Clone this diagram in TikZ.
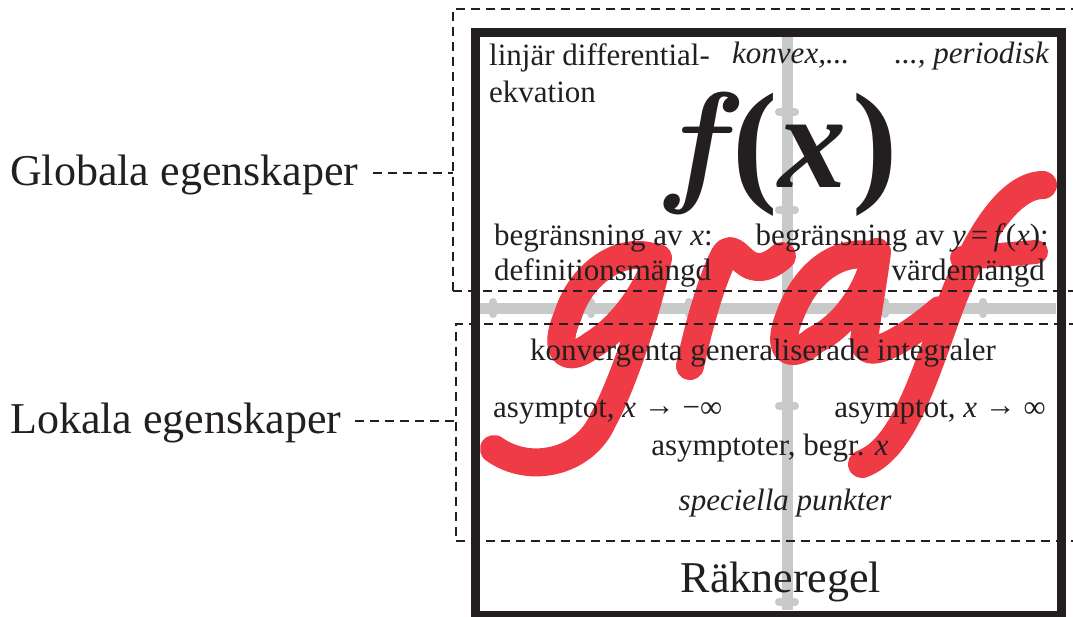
\documentclass[tikz,border=0pt]{standalone}
\usepackage{fontspec}
\setmainfont{Liberation Serif}
\newfontfamily\lmfont{Latin Modern Roman}
\usetikzlibrary{positioning}

\definecolor{inkblack}{HTML}{231F20}
\definecolor{grafred}{HTML}{EE3B45}
\definecolor{axisgray}{HTML}{C8CAC9}

\tikzset{
  txt/.style={inner sep=0, text=inkblack, font=\fontsize{31}{37}\selectfont},
  itxt/.style={txt, font=\fontsize{31}{37}\selectfont\itshape},
  bigtxt/.style={inner sep=0, text=inkblack, font=\fontsize{44}{50}\selectfont},
  sidelabel/.style={bigtxt, inner sep=14pt, text height=34pt, text depth=10pt},
  regionbox/.style={draw=inkblack, line width=1.6pt, dash pattern=on 9pt off 6pt,
    inner sep=0, outer sep=0, anchor=north west},
  leader/.style={draw=inkblack, line width=1.6pt, dash pattern=on 9pt off 6pt},
  frame/.style={draw=inkblack, line width=9pt},
  axis/.style={draw=axisgray, line width=11pt},
  tick/.style={draw=axisgray, line width=8pt, line cap=round},
  grafstroke/.style={draw=grafred, line width=28pt, line cap=round, line join=round}
}
\newcommand{\rarr}{\raisebox{2pt}{→}}

\begin{document}
\begin{tikzpicture}[x=1pt, y=-1pt]
\useasboundingbox (0,0) rectangle (1073,616);
\fill[white] (0,0) rectangle (1073,616);

% axes with ticks
\draw[axis] (480,308) -- (1056,308);
\draw[axis] (787,37) -- (787,610);
\foreach \k in {-3,-2,-1,1,2}
  \draw[tick] ({787+98*\k},302) -- ++(0,12);
\foreach \k in {-2,-1,1,3}
  \draw[tick] (779,{308+98*\k}) -- ++(16,0);

% graf
\draw[grafstroke] (655,258) .. controls (620,245) and (580,275) .. (568,315)
  .. controls (552,352) and (566,365) .. (592,345)
  .. controls (620,328) and (645,295) .. (658,258)
  .. controls (650,300) and (625,380) .. (603,420)
  .. controls (585,462) and (530,475) .. (494,449);
\draw[grafstroke] (690,366) .. controls (700,320) and (712,280) .. (724,256)
  .. controls (732,242) and (740,262) .. (752,266)
  .. controls (765,270) and (775,262) .. (782,256);
\draw[grafstroke] (870,255) .. controls (835,250) and (805,275) .. (790,315)
  .. controls (776,350) and (788,362) .. (815,340)
  .. controls (845,325) and (868,292) .. (877,252)
  .. controls (872,290) and (866,320) .. (864,342)
  .. controls (866,362) and (905,340) .. (940,310);
\draw[grafstroke] (1043,185) .. controls (1010,185) and (975,235) .. (945,320)
  .. controls (920,390) and (900,450) .. (862,464);
\draw[grafstroke, line width=24pt] (962,258) -- (1036,252);

% frame and regions
\draw[frame] (475,32) rectangle (1061,615);
\node[regionbox, minimum width=630pt, minimum height=282pt] (global) at (453,9) {};
\node[regionbox, minimum width=630pt, minimum height=217pt] (local) at (456,324) {};

\node[sidelabel, anchor=base west] (globlbl) at (-4,185) {Globala egenskaper};
\node[sidelabel, anchor=base west] (loklbl) at (-4,433) {Lokala egenskaper};
\draw[leader] (globlbl.east) -- (globlbl.east -| global.west);
\draw[leader] (loklbl.east) -- (loklbl.east -| local.west);

% texts
\node[inner sep=0, text=inkblack, font=\fontsize{136}{140}\selectfont\bfseries, anchor=base] (fx) at (782,187)
  {{\lmfont\bfseries\itshape f}\kern12pt(\itshape x\upshape\kern6pt)};
\node[txt, anchor=base west] (linjar) at (489,65) {linjär differential-};
\node[txt, anchor=base west] (ekv) at (489,102) {ekvation};
\node[itxt, anchor=base west] (konvex) at (732,63) {konvex,...};
\node[itxt, anchor=base east] (period) at (1049,63) {..., periodisk};
\node[txt, anchor=base west] (begrx) at (494,245) {begränsning av \textit{x}:};
\node[txt, anchor=base west] (defm) at (494,280) {definitionsmängd};
\node[txt, anchor=base east] (begry) at (1049,245) {begränsning av \textit{y}\,=\,\textit{f}(\textit{x}):};
\node[txt, anchor=base east] (vardem) at (1045,280) {värdemängd};
\node[txt, anchor=base] (konv) at (763,360) {konvergenta generaliserade integraler};
\node[txt, anchor=base west] (asymneg) at (493,417) {asymptot, \textit{x} \rarr{} −∞};
\node[txt, anchor=base east] (asympos) at (1046,417) {asymptot, \textit{x} \rarr{} ∞};
\node[txt, anchor=base] (asymbeg) at (770,455) {asymptoter, begr. \textit{x}};
\node[itxt, anchor=base] (spec) at (785,510) {speciella punkter};
\node[bigtxt, anchor=base] (rakne) at (781,592) {Räkneregel};
\end{tikzpicture}
\end{document}
